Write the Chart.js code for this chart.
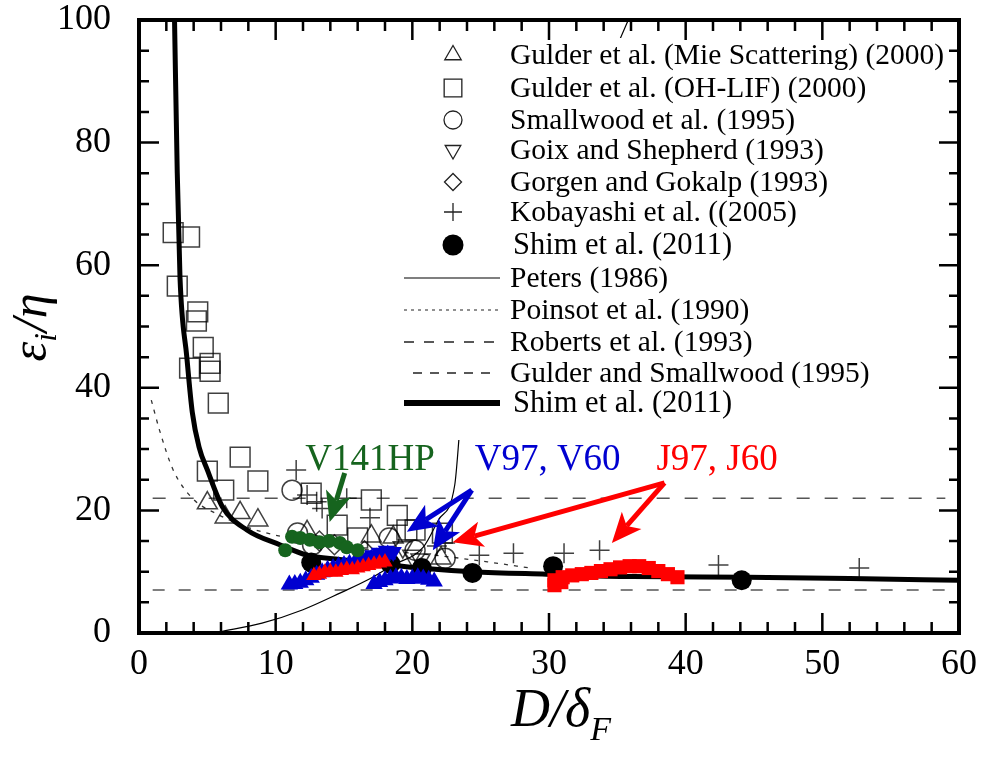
<!DOCTYPE html>
<html>
<head>
<meta charset="utf-8">
<script src="https://cdn.jsdelivr.net/npm/chart.js@4.4.1/dist/chart.umd.min.js"></script>
<style>
  html, body { margin: 0; padding: 0; background: #fff; }
</style>
</head>
<body>
<canvas id="chart" width="987" height="762"></canvas>
<script>
// --- data ---
const xTicks = [0, 10, 20, 30, 40, 50, 60];
const yTicks = [0, 20, 40, 60, 80, 100];

// Gulder et al. (Mie Scattering) (2000)
const mieX = [5.0, 6.3, 7.4, 8.7, 12.3, 17.0, 18.6, 22.1];
const mieY = [21.2, 18.9, 19.6, 18.4, 16.5, 15.8, 15.6, 12.2];
// Gulder et al. (OH-LIF) (2000)
const ohX = [2.5, 3.7, 2.8, 4.3, 4.2, 4.7, 3.7, 5.2, 5.2, 5.8, 5.0, 7.4, 8.7, 6.2, 12.6, 17.0, 18.9, 19.6, 14.5, 16.0, 22.2, 20.2];
const ohY = [65.3, 64.6, 56.6, 52.4, 50.9, 46.6, 43.2, 44.0, 42.7, 37.5, 26.4, 28.7, 24.8, 23.3, 22.8, 21.7, 19.2, 16.8, 17.6, 15.5, 16.3, 16.8];
// Smallwood et al. (1995)
const smallX = [11.2, 11.6, 12.7, 18.3, 20.2, 22.4];
const smallY = [23.3, 16.3, 14.4, 15.5, 13.5, 12.2];
// Goix and Shepherd (1993)
const goixX = [19.3, 20.0, 20.6];
const goixY = [14.0, 12.6, 12.0];
// Gorgen and Gokalp (1993)
const gorgenX = [13.2, 14.3, 16.5];
const gorgenY = [15.0, 14.4, 13.4];
// Kobayashi et al. (2005)
const kobaX = [11.5, 12.3, 13.0, 13.4, 15.2, 16.9, 21.8, 22.4, 24.9, 27.4, 31.1, 33.7, 42.4, 52.7];
const kobaY = [26.6, 22.5, 21.4, 20.3, 22.0, 18.8, 14.2, 14.7, 12.7, 13.0, 13.0, 13.5, 11.1, 10.6];
// Shim et al. (2011) points
const shimX = [12.6, 18.4, 20.7, 24.4, 30.3, 44.1];
const shimY = [11.5, 11.3, 10.6, 9.8, 10.9, 8.6];

// V141HP
const v141X = [10.7, 11.2, 11.8, 12.5, 13.2, 13.9, 14.7, 15.2, 16.0];
const v141Y = [13.5, 15.7, 15.5, 15.2, 14.8, 15.0, 14.7, 14.0, 13.5];
// V97, V60
const v97X = [11.0, 11.4, 11.8, 12.2, 12.6, 13.0, 13.4, 13.8, 14.2, 14.6, 15.0, 15.4, 15.8, 16.2, 16.6, 17.0, 17.4, 17.8, 18.2];
const v97Y = [7.9, 8.0, 8.2, 8.6, 9.0, 9.5, 9.9, 10.3, 10.6, 10.9, 11.1, 11.3, 11.5, 11.7, 11.9, 12.1, 12.3, 12.6, 12.8];
const v60X = [17.2, 17.6, 18.0, 18.4, 18.8, 19.2, 19.6, 20.0, 20.4, 20.8, 21.2, 21.6];
const v60Y = [8.0, 8.3, 8.6, 8.9, 9.1, 9.0, 8.8, 8.9, 9.1, 8.9, 8.7, 8.4];
const v60TopX = [16.6, 17.1, 17.6, 18.1, 18.6];
const v60TopY = [12.2, 12.7, 13.1, 13.4, 13.2];
// J97, J60
const j97X = [12.8, 13.2, 13.6, 14.0, 14.4, 14.8, 15.2, 15.6, 16.0, 16.4, 16.8, 17.2, 17.6, 18.0];
const j97Y = [9.4, 9.6, 9.9, 10.0, 9.9, 10.2, 10.4, 10.3, 10.6, 10.8, 11.0, 11.2, 11.4, 11.6];
const j60X = [30.4, 30.4, 30.9, 31.0, 31.7, 32.4, 33.1, 33.8, 34.5, 35.2, 35.9, 36.6, 37.3, 38.0, 38.7, 39.4];
const j60Y = [7.8, 8.6, 8.3, 9.1, 9.4, 9.6, 9.8, 10.1, 10.4, 10.7, 10.9, 10.9, 10.6, 10.1, 9.6, 9.1];

// model curves
const petersX = [5.9, 9.0, 12.0, 14.7, 17.1, 18.6, 20.8, 21.9, 23.1, 23.6, 30.0, 35.8];
const petersY = [0.2, 1.6, 3.8, 6.5, 9.1, 11.1, 14.0, 18.4, 24.1, 36.0, 70.0, 100];
const poinsotX = [0.9, 1.5, 2.5, 3.9, 5.9, 8.0, 10.5, 14.7, 19.1, 22.0, 25.5, 28.6];
const poinsotY = [38.0, 33.1, 26.6, 22.0, 19.2, 17.2, 15.7, 14.0, 13.2, 12.6, 11.6, 10.6];
const robertsX = [1.0, 59.0];
const robertsY = [22.0, 22.0];
const gulderSmX = [1.0, 59.0];
const gulderSmY = [7.0, 7.0];
const shimLineX = [2.6, 2.8, 3.0, 3.5, 3.9, 4.4, 5.0, 6.1, 7.9, 10.3, 12.3, 14.7, 17.5, 20.5, 24.4, 29.8, 36.1, 44.5, 52.0, 60.0];
const shimLineY = [100, 75, 58, 45, 36, 30.3, 26.6, 20.6, 16.8, 14.4, 12.7, 12.0, 11.3, 10.6, 10.0, 9.6, 9.2, 9.1, 8.9, 8.6];

const legendNames = [
  'Gulder et al. (Mie Scattering) (2000)',
  'Gulder et al. (OH-LIF) (2000)',
  'Smallwood et al. (1995)',
  'Goix and Shepherd (1993)',
  'Gorgen and Gokalp (1993)',
  'Kobayashi et al. ((2005)',
  'Shim et al. (2011)',
  'Peters (1986)',
  'Poinsot et al. (1990)',
  'Roberts et al. (1993)',
  'Gulder and Smallwood (1995)',
  'Shim et al. (2011)'
];

// annotation arrows (data coords): tail, tip, colour
const arrows = [
  { from: [15.05, 26.1], to: [13.95, 18.1], color: '#16641e' },
  { from: [24.35, 23.3], to: [19.6, 16.5], color: '#0000d0' },
  { from: [24.35, 23.3], to: [21.5, 13.5], color: '#0000d0' },
  { from: [38.45, 24.5], to: [22.95, 14.8], color: '#ff0000' },
  { from: [38.45, 24.5], to: [34.6, 14.7], color: '#ff0000' }
];
const notes = [
  { text: 'V141HP', at: [16.9, 26.6], color: '#16641e' },
  { text: 'V97, V60', at: [29.9, 26.6], color: '#0000d0' },
  { text: 'J97, J60', at: [42.3, 26.6], color: '#ff0000' }
];

const SERIF = '"Liberation Serif", "Times New Roman", serif';
const pts = (xs, ys) => xs.map((x, i) => ({ x, y: ys[i] }));

const open = (label, xs, ys, style, r, rot) => ({
  label, data: pts(xs, ys), pointStyle: style, pointRadius: r, pointRotation: rot || 0,
  pointBorderColor: 'rgba(0,0,0,0.75)', pointBackgroundColor: 'rgba(0,0,0,0)',
  pointBorderWidth: 1.5, showLine: false, order: 5
});
const filled = (label, xs, ys, style, r, color, order, rot) => ({
  label, data: pts(xs, ys), pointStyle: style, pointRadius: r, pointRotation: rot || 0,
  pointBorderColor: color, pointBackgroundColor: color, pointBorderWidth: 0,
  showLine: false, order
});
const line = (label, xs, ys, width, dash, color, order) => ({
  label, data: pts(xs, ys), showLine: true, pointRadius: 0, borderColor: color,
  borderWidth: width, borderDash: dash, fill: false, order,
  cubicInterpolationMode: 'monotone'
});

const datasets = [
  open(legendNames[0], mieX, mieY, 'triangle', 11.5),
  open(legendNames[1], ohX, ohY, 'rect', 14),
  open(legendNames[2], smallX, smallY, 'circle', 10),
  open(legendNames[3], goixX, goixY, 'triangle', 11, 180),
  open(legendNames[4], gorgenX, gorgenY, 'rectRot', 10),
  open(legendNames[5], kobaX, kobaY, 'cross', 10),
  line(legendNames[7], petersX, petersY, 1.2, [], '#000', 6),
  line(legendNames[8], poinsotX, poinsotY, 1.3, [4, 6], '#333', 6),
  line(legendNames[9], robertsX, robertsY, 1.5, [13, 15], '#555', 6),
  line(legendNames[10], gulderSmX, gulderSmY, 1.5, [12, 14], '#555', 6),
  line(legendNames[11], shimLineX, shimLineY, 5, [], '#000', 4),
  filled(legendNames[6], shimX, shimY, 'circle', 10, '#000', 3),
  filled('V97', v97X, v97Y, 'triangle', 10, '#0000d0', 2),
  filled('V60', v60X, v60Y, 'triangle', 10, '#0000d0', 2),
  filled('V60 top', v60TopX, v60TopY, 'triangle', 10, '#0000d0', 2, 180),
  filled('J97', j97X, j97Y, 'triangle', 9, '#ff0000', 1),
  filled('J60', j60X, j60Y, 'rect', 10, '#ff0000', 1),
  filled('V141HP', v141X, v141Y, 'circle', 7, '#16641e', 0)
];

// frame, inward ticks, legend and arrows
const decor = {
  id: 'decor',
  afterDatasetsDraw(chart) {
    const { ctx, chartArea: a, scales: { x, y } } = chart;
    ctx.save();

    // legend box (hides curves behind it)
    ctx.fillStyle = '#fff';
    ctx.fillRect(400, 38, 548, 402);
    const rowsY = [55, 88, 120, 150, 182, 212, 245, 278, 310, 342, 373, 403];
    const mk = [
      ['triangle', 9.5, 0], ['rect', 12.5, 0], ['circle', 9, 0], ['triangle', 9, 180],
      ['rectRot', 8.5, 0], ['cross', 9, 0]
    ];
    ctx.strokeStyle = '#222';
    ctx.lineWidth = 1.3;
    mk.forEach((m, i) => {
      ctx.fillStyle = 'rgba(0,0,0,0)';
      Chart.helpers.drawPoint(ctx, { pointStyle: m[0], radius: m[1], rotation: m[2], borderWidth: 1.3 }, 453, rowsY[i]);
    });
    ctx.fillStyle = '#000';
    ctx.beginPath();
    ctx.arc(453, rowsY[6], 10.5, 0, Math.PI * 2);
    ctx.fill();
    const lineRows = [[1.2, [], '#000'], [1.2, [3, 4], '#222'], [1.3, [10, 10], '#222'], [1.3, [9, 8], '#222'], [6, [], '#000']];
    lineRows.forEach((l, i) => {
      ctx.lineWidth = l[0];
      ctx.strokeStyle = l[2];
      ctx.setLineDash(l[1]);
      ctx.beginPath();
      ctx.moveTo(i === 3 ? 413 : 404, rowsY[7 + i]);
      ctx.lineTo(i === 3 ? 493 : 500, rowsY[7 + i]);
      ctx.stroke();
    });
    ctx.setLineDash([]);
    ctx.fillStyle = '#000';
    ctx.textBaseline = 'middle';
    ctx.textAlign = 'left';
    legendNames.forEach((name, i) => {
      const big = i === 6 || i === 11;
      ctx.font = (big ? '30.5px ' : '29.5px ') + SERIF;
      ctx.fillText(name, big ? 513 : 510, rowsY[i] + 1);
    });

    // arrows
    arrows.forEach(ar => {
      const x0 = x.getPixelForValue(ar.from[0]), y0 = y.getPixelForValue(ar.from[1]);
      const x1 = x.getPixelForValue(ar.to[0]), y1 = y.getPixelForValue(ar.to[1]);
      const ang = Math.atan2(y1 - y0, x1 - x0);
      const hl = 30, hw = 13;
      const bx = x1 - Math.cos(ang) * hl * 0.75, by = y1 - Math.sin(ang) * hl * 0.75;
      ctx.strokeStyle = ar.color;
      ctx.fillStyle = ar.color;
      ctx.lineWidth = 5;
      ctx.beginPath();
      ctx.moveTo(x0, y0);
      ctx.lineTo(bx, by);
      ctx.stroke();
      const cx = x1 - Math.cos(ang) * hl, cy = y1 - Math.sin(ang) * hl;
      ctx.beginPath();
      ctx.moveTo(x1, y1);
      ctx.lineTo(cx - Math.sin(ang) * hw, cy + Math.cos(ang) * hw);
      ctx.lineTo(bx, by);
      ctx.lineTo(cx + Math.sin(ang) * hw, cy - Math.cos(ang) * hw);
      ctx.closePath();
      ctx.fill();
    });
    ctx.textAlign = 'center';
    ctx.textBaseline = 'alphabetic';
    ctx.font = '37px ' + SERIF;
    notes.forEach(n => {
      ctx.fillStyle = n.color;
      ctx.fillText(n.text, x.getPixelForValue(n.at[0]), y.getPixelForValue(n.at[1]));
    });

    // frame
    ctx.strokeStyle = '#000';
    ctx.lineWidth = 4;
    ctx.strokeRect(a.left, a.top, a.right - a.left, a.bottom - a.top);
    // inward ticks on all sides
    ctx.lineWidth = 2.5;
    ctx.beginPath();
    for (let v = 0; v <= 60; v += 2) {
      const px = x.getPixelForValue(v);
      const len = v % 10 === 0 ? 20 : 11;
      ctx.moveTo(px, a.bottom); ctx.lineTo(px, a.bottom - len);
      ctx.moveTo(px, a.top); ctx.lineTo(px, a.top + len);
    }
    for (let v = 0; v <= 100; v += 5) {
      const py = y.getPixelForValue(v);
      const len = v % 20 === 0 ? 20 : 10;
      ctx.moveTo(a.left, py); ctx.lineTo(a.left + len, py);
      ctx.moveTo(a.right, py); ctx.lineTo(a.right - len, py);
    }
    ctx.stroke();
    ctx.restore();
  },
  afterDraw(chart) {
    const { ctx } = chart;
    ctx.save();
    ctx.fillStyle = '#000';
    ctx.textBaseline = 'alphabetic';
    ctx.textAlign = 'left';
    const big = 'italic 50px ' + SERIF, small = 'italic 31px ' + SERIF;
    // y title: epsilon_i / eta
    ctx.translate(46, 328);
    ctx.rotate(-Math.PI / 2);
    ctx.font = big;
    const wE = ctx.measureText('\u03b5').width;
    const wS = (ctx.font = small, ctx.measureText('i').width);
    ctx.font = big;
    const wR = ctx.measureText('/\u03b7').width;
    let sx = -(wE + wS + wR) / 2;
    ctx.fillText('\u03b5', sx, 0);
    ctx.font = small;
    ctx.fillText('i', sx + wE, 10);
    ctx.font = big;
    ctx.fillText('/\u03b7', sx + wE + wS + 1, 0);
    ctx.restore();

    // x title: D / delta_F
    ctx.save();
    ctx.fillStyle = '#000';
    const bigX = 'italic 54px ' + SERIF, smallX = 'italic 34px ' + SERIF;
    ctx.font = bigX;
    const w1 = ctx.measureText('D/\u03b4').width;
    ctx.font = smallX;
    const w2 = ctx.measureText('F').width;
    let tx = 561 - (w1 + w2) / 2;
    ctx.font = bigX;
    ctx.fillText('D/\u03b4', tx, 726);
    ctx.font = smallX;
    ctx.fillText('F', tx + w1, 740);
    ctx.restore();
  }
};

new Chart(document.getElementById('chart').getContext('2d'), {
  type: 'scatter',
  data: { datasets },
  options: {
    responsive: false,
    animation: false,
    layout: { padding: { left: 0, top: 20, right: 28, bottom: 0 } },
    plugins: { legend: { display: false }, tooltip: { enabled: false } },
    scales: {
      x: {
        type: 'linear', min: 0, max: 60,
        afterBuildTicks: s => { s.ticks = xTicks.map(v => ({ value: v })); },
        afterFit: s => { s.height = 129; s.paddingLeft = 0; s.paddingRight = 0; },
        ticks: { font: { family: SERIF, size: 36 }, color: '#000', padding: 10, maxRotation: 0 },
        grid: { display: false, drawTicks: false },
        border: { display: false }
      },
      y: {
        type: 'linear', min: 0, max: 100,
        afterBuildTicks: s => { s.ticks = yTicks.map(v => ({ value: v })); },
        afterFit: s => { s.width = 139; s.paddingTop = 0; s.paddingBottom = 0; },
        ticks: { font: { family: SERIF, size: 36 }, color: '#000', padding: 28 },
        grid: { display: false, drawTicks: false },
        border: { display: false }
      }
    }
  },
  plugins: [decor]
});
</script>
</body>
</html>
